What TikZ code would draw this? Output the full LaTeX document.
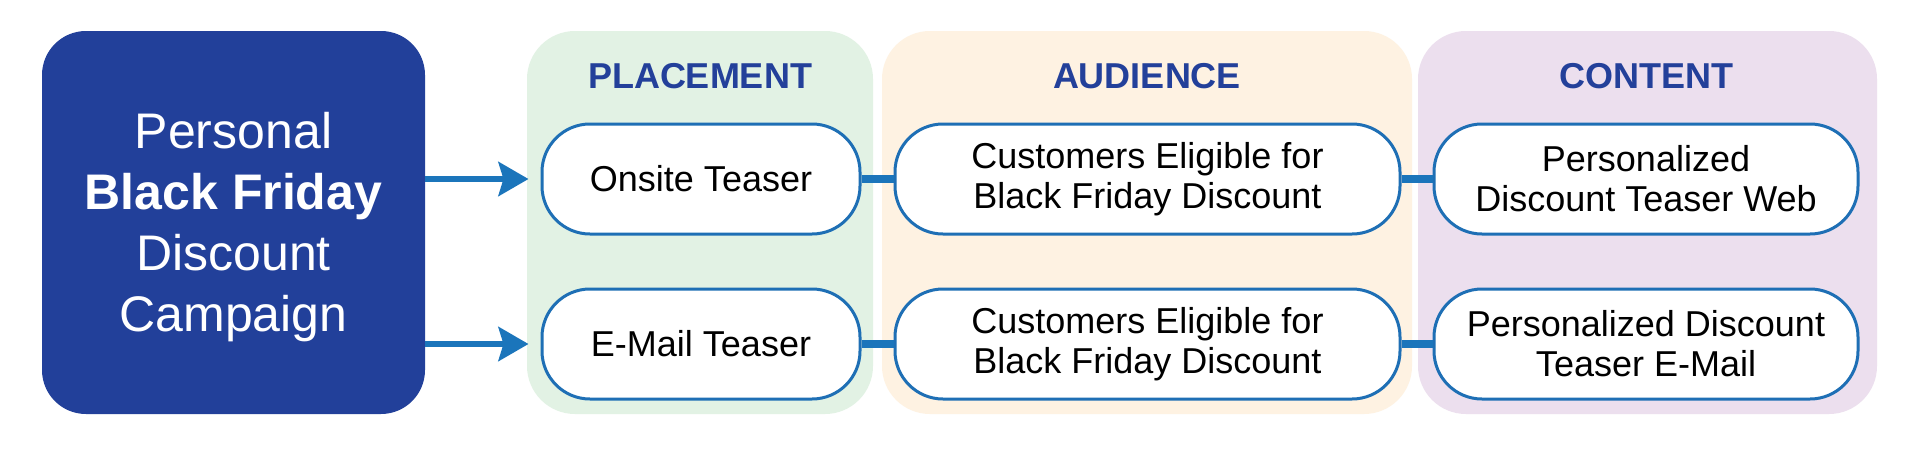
\documentclass[tikz,border=0pt]{standalone}
\usepackage{fontspec}
\setmainfont{Liberation Sans}
\usetikzlibrary{arrows.meta}
\definecolor{mainblue}{HTML}{22409A}
\definecolor{headblue}{HTML}{23409A}
\definecolor{linkblue}{HTML}{1B75BB}
\definecolor{edgeblue}{HTML}{1E6FB5}
\definecolor{pgreen}{HTML}{E2F2E4}
\definecolor{ppeach}{HTML}{FEF2E2}
\definecolor{plav}{HTML}{ECDFEE}
\tikzset{
  panel/.style={rectangle, rounded corners=48pt, minimum height=383pt, inner sep=0pt},
  header/.style={text=headblue, font=\fontsize{36}{40}\selectfont\bfseries},
  itembox/.style={rectangle, rounded corners=48pt, draw=edgeblue, line width=3pt, fill=white,
     minimum height=110pt, inner sep=0pt, align=center, font=\fontsize{36}{40}\selectfont},
  link/.style={draw=linkblue, line width=8pt},
  feed/.style={draw=linkblue, line width=6pt, -{Stealth[length=30pt,width=34pt,inset=5pt]}, shorten >=12pt}
}
\begin{document}
\begin{tikzpicture}[x=1pt,y=-1pt]
\useasboundingbox[fill=white] (0,0) rectangle (1920,448);
% main box
\node[rectangle, rounded corners=44pt, fill=mainblue, minimum width=383pt, minimum height=383pt,
      inner sep=0pt] (main) at (233.5,222.5) {};
\node[align=center, text=white, font=\fontsize{50}{61}\selectfont, inner sep=0pt] (mainlabel) at (233.5,227)
  {Personal\\\textbf{Black Friday}\\Discount\\Campaign};
% panels
\node[panel, fill=pgreen, minimum width=346pt] (ppanel) at (700,222.5) {};
\node[panel, fill=ppeach, minimum width=530pt] (apanel) at (1147,222.5) {};
\node[panel, fill=plav, minimum width=459pt] (cpanel) at (1647.5,222.5) {};
% headers
\node[header] (hp) at (700,76) {PLACEMENT};
\node[header] (ha) at (1147,76) {AUDIENCE};
\node[header] (hc) at (1646,76) {CONTENT};
% boxes row 1
\node[itembox, minimum width=318pt] (p1) at (701,179) {Onsite Teaser};
\node[itembox, minimum width=505pt] (a1) at (1147.5,179) {Customers Eligible for\\Black Friday Discount\hspace*{0pt}};
\node[itembox, minimum width=424pt] (c1) at (1646,179) {Personalized\\Discount Teaser Web};
% boxes row 2
\node[itembox, minimum width=318pt] (p2) at (701,344) {E-Mail Teaser};
\node[itembox, minimum width=505pt] (a2) at (1147.5,344) {Customers Eligible for\\Black Friday Discount};
\node[itembox, minimum width=424pt] (c2) at (1646,344) {Personalized Discount\\Teaser E-Mail};
% links
\path[link] (p1.east) -- (a1.west);
\path[link] (a1.east) -- (c1.west);
\path[link] (p2.east) -- (a2.west);
\path[link] (a2.east) -- (c2.west);
% feed arrows
\path[feed] (main.east |- p1.west) -- (p1.west);
\path[feed] (main.east |- p2.west) -- (p2.west);
\end{tikzpicture}
\end{document}
